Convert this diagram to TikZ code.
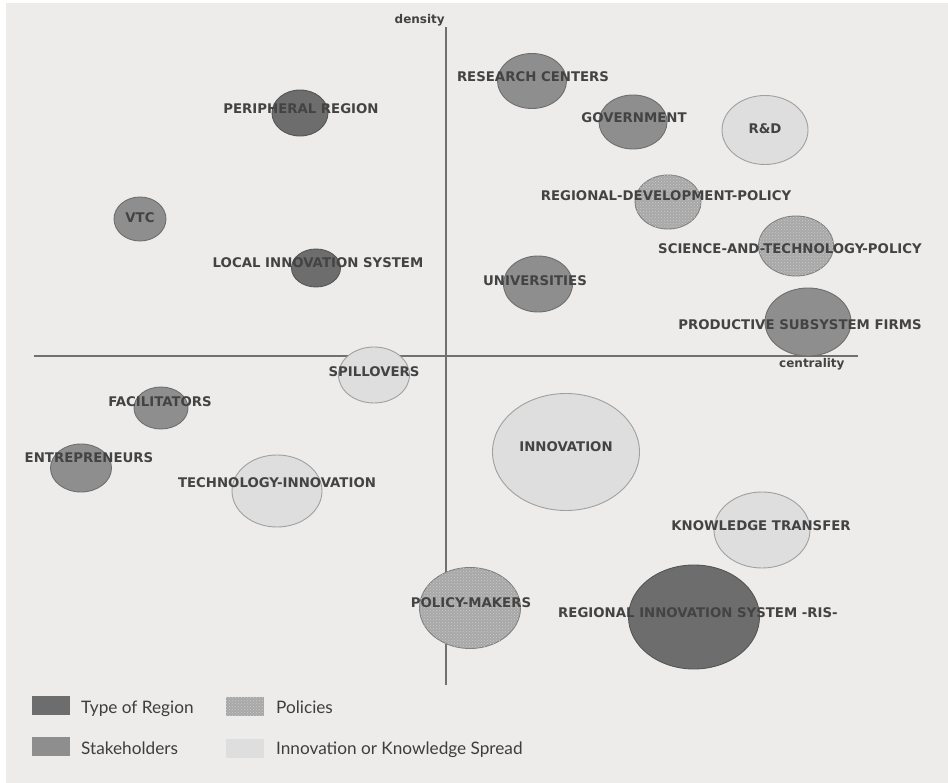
\documentclass[tikz,border=0pt]{standalone}
\usepackage{fontspec}
\newfontfamily\lblfont{DejaVu Sans}
\newfontfamily\legfont{Lato}
\usetikzlibrary{shapes.geometric,patterns}

\definecolor{panel}{HTML}{EDECEA}
\definecolor{axisline}{HTML}{707070}
\definecolor{lbltext}{HTML}{434343}
\definecolor{legtextcol}{HTML}{3E3E3E}
\definecolor{regionfill}{HTML}{6D6D6D}
\definecolor{regionline}{HTML}{555555}
\definecolor{stakefill}{HTML}{8E8E8E}
\definecolor{stakeline}{HTML}{6E6E6E}
\definecolor{policyfill}{HTML}{A8A8A8}
\definecolor{policydot}{HTML}{CACACA}
\definecolor{policyline}{HTML}{7E7E7E}
\definecolor{spreadfill}{HTML}{DEDEDE}
\definecolor{spreadline}{HTML}{A0A0A0}

\begin{document}
\begin{tikzpicture}[x=1pt,y=-1pt,
  blob/.style={ellipse, inner sep=0pt, line width=0.9pt},
  sz/.style 2 args={minimum width=#1pt, minimum height=#2pt},
  region/.style={blob, fill=regionfill, draw=regionline},
  stake/.style={blob, fill=stakefill, draw=stakeline},
  policy/.style={blob, fill=policyfill, draw=policyline,
    postaction={pattern=crosshatch dots, pattern color=policydot}},
  spread/.style={blob, fill=spreadfill, draw=spreadline},
  lbl/.style={font=\lblfont\bfseries\fontsize{13.3}{16}\selectfont,
    text=lbltext, inner sep=0pt},
  axislbl/.style={font=\lblfont\bfseries\fontsize{12}{14}\selectfont,
    text=lbltext, inner sep=0pt},
  swatch/.style={rectangle, inner sep=0pt, minimum width=38pt, minimum height=19pt},
  legtext/.style={font=\legfont\fontsize{17.2}{20}\selectfont, text=legtextcol,
    inner sep=0pt, anchor=base west},
]
\useasboundingbox (0,0) rectangle (948,783);
\fill[white] (0,0) rectangle (948,783);
\fill[panel] (6,3) rectangle (948,783);

% axes
\coordinate (ytop) at (446,27);
\coordinate (ybot) at (446,685);
\coordinate (xleft) at (34,356);
\coordinate (xright) at (858,356);
\draw[axisline, line width=2pt] (ytop) -- (ybot);
\draw[axisline, line width=2pt] (xleft) -- (xright);
\node[axislbl, anchor=base east] (density) at (445,24) {density};
\node[axislbl, anchor=base west] (centrality) at (779,368) {centrality};

% bubbles
\node[stake,  sz={69}{55}]   (research)   at (532,81)  {};
\node[stake,  sz={68}{54}]   (govt)       at (633,122) {};
\node[spread, sz={86}{69}]   (rd)         at (765,130) {};
\node[region, sz={56}{46}]   (peripheral) at (300,113) {};
\node[stake,  sz={52}{44}]   (vtc)        at (140,219) {};
\node[region, sz={49}{38}]   (local)      at (316,268) {};
\node[policy, sz={66}{54}]   (rdp)        at (668,202) {};
\node[policy, sz={75}{60}]   (stp)        at (796,246) {};
\node[stake,  sz={69}{56}]   (univ)       at (538,284) {};
\node[stake,  sz={86}{68}]   (firms)      at (808,322) {};
\node[spread, sz={71}{56}]   (spill)      at (374,375) {};
\node[stake,  sz={54}{42}]   (facil)      at (161,408) {};
\node[stake,  sz={61}{48}]   (entre)      at (81,468)  {};
\node[spread, sz={90}{72}]   (techinn)    at (277,491) {};
\node[spread, sz={147}{117}] (innov)      at (566,452) {};
\node[spread, sz={96}{76}]   (know)       at (762,530) {};
\node[region, sz={131}{104}] (ris)        at (694,617) {};
\node[policy, sz={101}{81}]  (polmak)     at (470,608) {};

% bubble labels
\node[lbl] (research-l)   at (533,77)  {RESEARCH CENTERS};
\node[lbl] (govt-l)       at (634,118) {GOVERNMENT};
\node[lbl] (rd-l)         at (765,129) {R\&D};
\node[lbl] (peripheral-l) at (301,109) {PERIPHERAL REGION};
\node[lbl] (vtc-l)        at (140,218) {VTC};
\node[lbl] (local-l)      at (318,263) {LOCAL INNOVATION SYSTEM};
\node[lbl] (rdp-l)        at (666,196) {REGIONAL-DEVELOPMENT-POLICY};
\node[lbl] (stp-l)        at (790,249) {SCIENCE-AND-TECHNOLOGY-POLICY};
\node[lbl] (univ-l)       at (535,281) {UNIVERSITIES};
\node[lbl] (firms-l)      at (800,325) {PRODUCTIVE SUBSYSTEM FIRMS};
\node[lbl] (spill-l)      at (374,372) {SPILLOVERS};
\node[lbl] (facil-l)      at (160,402) {FACILITATORS};
\node[lbl] (entre-l)      at (89,458)  {ENTREPRENEURS};
\node[lbl] (techinn-l)    at (277,483) {TECHNOLOGY-INNOVATION};
\node[lbl] (innov-l)      at (566,447) {INNOVATION};
\node[lbl] (know-l)       at (761,526) {KNOWLEDGE TRANSFER};
\node[lbl] (ris-l)        at (698,613) {REGIONAL INNOVATION SYSTEM -RIS-};
\node[lbl] (polmak-l)     at (471,603) {POLICY-MAKERS};

% legend
\node[swatch, fill=regionfill] (key-region) at (51,705.5) {};
\node[swatch, fill=stakefill]  (key-stake)  at (51,746.5) {};
\node[swatch, fill=policyfill, postaction={pattern=crosshatch dots, pattern color=policydot}] (key-policy) at (244.5,706) {};
\node[swatch, fill=spreadfill] (key-spread) at (244.5,748) {};
\node[legtext] (key-region-t) at (81,713)  {Type of Region};
\node[legtext] (key-stake-t)  at (81,754)  {Stakeholders};
\node[legtext] (key-policy-t) at (276,713) {Policies};
\node[legtext] (key-spread-t) at (276,754) {Innovation or Knowledge Spread};
\end{tikzpicture}
\end{document}
